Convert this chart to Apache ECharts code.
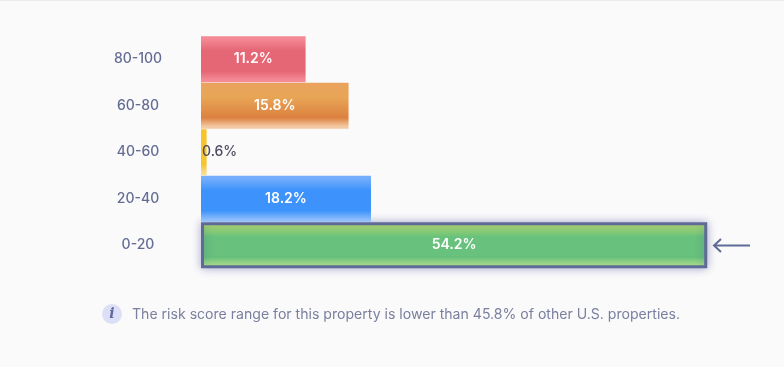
<!DOCTYPE html>
<html>

<head>
  <meta charset="UTF-8">
  <title>Risk score range</title>
  <style>
    html, body {
      margin: 0;
      background: #fafafb;
    }

    #chart {
      width: 784px;
      height: 367px;
    }
  </style>
  <script type="text/javascript" src="https://cdn.jsdelivr.net/npm/echarts@6/dist/echarts.min.js"></script>
</head>

<body>
  <div id="chart"></div>
  <script type="text/javascript">
    var categories = ['0-20', '20-40', '40-60', '60-80', '80-100'];
    var shares = [54.2, 18.2, 0.6, 15.8, 11.2];
    var gradients = [
      ['#b0de6c', '#68c17c', '#68c17c', '#b8f088'],
      ['#75aefc', '#3d93fb', '#3d93fb', '#8dbdfb'],
      ['#f6c52c', '#f6c52c', '#f6c52c', '#f8dc8a'],
      ['#eaa35c', '#e8a556', '#dc8140', '#f2c9a2'],
      ['#f58a96', '#e56674', '#e56674', '#f58a96']
    ];
    var note = 'The risk score range for this property is lower than 45.8% of other U.S. properties.';
    var fontName = 'Inter';

    function barStyle(colors) {
      return {
        type: 'linear', x: 0, y: 0, x2: 0, y2: 1,
        colorStops: [
          { offset: 0.05, color: colors[0] },
          { offset: 0.32, color: colors[1] },
          { offset: 0.76, color: colors[2] },
          { offset: 0.95, color: colors[3] }
        ]
      };
    }

    var barData = shares.map(function (value, i) {
      var item = { value: value, itemStyle: { color: barStyle(gradients[i]) } };
      if (i === 0) {
        item.itemStyle.borderColor = '#5f6a96';
        item.itemStyle.borderWidth = 3;
        item.itemStyle.shadowColor = 'rgba(70, 80, 150, 0.45)';
        item.itemStyle.shadowBlur = 9;
      }
      if (value < 1) {
        item.label = { position: 'insideLeft', distance: 1, color: '#4b4b5e', fontWeight: 500 };
      }
      return item;
    });

    var myChart = echarts.init(document.getElementById('chart'), null, { renderer: 'canvas' });
    myChart.setOption({
      animation: false,
      backgroundColor: '#fafafb',
      grid: { left: 201, top: 36, width: 560.4, height: 232.5 },
      xAxis: { type: 'value', min: 0, max: 60, show: false },
      yAxis: {
        type: 'category',
        data: categories,
        axisLine: { show: false },
        axisTick: { show: false },
        axisLabel: { color: '#646c94', fontSize: 14, fontFamily: fontName, fontWeight: 500, margin: 63, align: 'center' }
      },
      series: [{
        type: 'bar',
        data: barData,
        barCategoryGap: '1%',
        label: {
          show: true,
          position: 'inside',
          color: '#fff',
          fontSize: 14,
          fontFamily: fontName,
          fontWeight: 600,
          formatter: '{c}%'
        }
      }],
      graphic: [
        { type: 'rect', shape: { x: 0, y: 0, width: 784, height: 1 }, style: { fill: '#ececec' } },
        { type: 'polyline', shape: { points: [[714, 245.5], [750, 245.5]] }, style: { stroke: '#5f6a96', lineWidth: 2, fill: null } },
        { type: 'polyline', shape: { points: [[721, 239], [714, 245.5], [721, 252]] }, style: { stroke: '#5f6a96', lineWidth: 2, fill: null } },
        { type: 'circle', shape: { cx: 112, cy: 314, r: 10 }, style: { fill: '#dcdff5' } },
        {
          type: 'text', x: 112, y: 314,
          style: { text: 'i', fill: '#5f6a9e', font: 'italic bold 14px "DejaVu Serif"', align: 'center', verticalAlign: 'middle' }
        },
        {
          type: 'text', x: 132, y: 315,
          style: { text: note, fill: '#7a7f9e', font: '14.08px ' + fontName, align: 'left', verticalAlign: 'middle' }
        }
      ]
    });
  </script>
</body>

</html>
